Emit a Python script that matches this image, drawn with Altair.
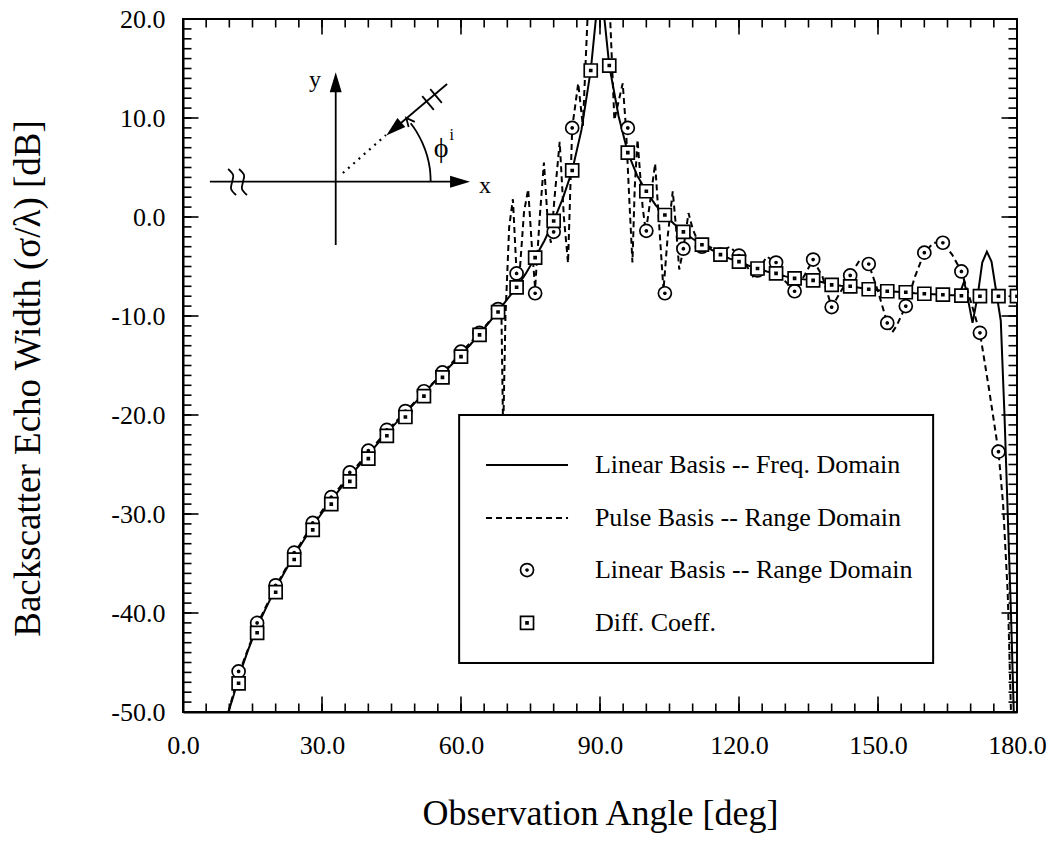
import altair as alt
import pandas as pd

# ---------------- series names ----------------
S1 = "Linear Basis -- Freq. Domain"
S2 = "Pulse Basis -- Range Domain"
S3 = "Linear Basis -- Range Domain"
S4 = "Diff. Coeff."

# ---------------- data ----------------
solid_x = [9.8, 11, 12, 14, 16, 18, 20, 22, 24, 26,
           28, 30, 32, 34, 36, 38, 40, 42, 44, 46,
           48, 50, 52, 54, 56, 58, 60, 62, 64, 66,
           68, 70, 72, 74, 76, 78, 80, 82, 84, 86,
           88, 89, 90, 91, 92, 94, 96, 98, 100, 102,
           104, 106, 108, 110, 112, 114, 116, 118, 120, 122,
           124, 126, 128, 130, 132, 134, 136, 138, 140, 142,
           144, 146, 148, 150, 152, 154, 156, 158, 160, 162,
           164, 166, 167.5, 168.6, 169.5, 170.4, 171.5, 172.5, 173.5, 174.5,
           175.5, 176.5, 177.3, 178, 178.7, 179.3]
solid_y = [-50, -48.2, -46.5, -43.8, -41.4, -39.4, -37.5, -35.8, -34.2, -32.7,
           -31.2, -29.9, -28.6, -27.4, -26.2, -25.1, -24.0, -22.9, -21.8, -20.8,
           -19.8, -18.8, -17.8, -16.8, -15.9, -14.9, -13.9, -12.9, -11.8, -10.7,
           -9.5, -8.3, -7.1, -5.7, -4.1, -2.4, -0.4, 1.9, 4.7, 8.8,
           14.8, 19.5, 24.0, 19.8, 15.3, 10.2, 6.5, 4.2, 2.6, 1.2,
           0.2, -0.7, -1.5, -2.2, -2.8, -3.3, -3.8, -4.2, -4.5, -4.9,
           -5.2, -5.5, -5.7, -6.0, -6.2, -6.3, -6.4, -6.6, -6.85, -6.95,
           -7.0, -7.15, -7.3, -7.4, -7.5, -7.55, -7.6, -7.7, -7.75, -7.8,
           -7.85, -7.9, -7.9, -6.5, -8.5, -10.7, -8.0, -4.6, -3.5, -4.5,
           -7.5, -10.5, -20, -30, -40, -50]

dash_x = [9.8, 12, 16, 20, 24, 28, 32, 36, 40, 44,
          48, 52, 56, 60, 64, 66, 68, 68.7, 69.1, 69.6,
          70.4, 71.2, 72.0, 72.6, 73.6, 74.5, 75.3, 76.0, 77.0, 77.9,
          78.8, 79.4, 80.2, 81.3, 82.2, 83.1, 84.0, 85.3, 86.3, 87.3,
          88.0, 90.0, 92.2, 93.1, 94.9, 95.6, 96.3, 97.0, 97.5, 98.1,
          99.2, 99.9, 100.8, 101.9, 102.8, 103.7, 104.6, 105.7, 106.4, 107.1,
          108.0, 109.1, 110.0, 110.7, 112, 114, 116, 118, 120, 122,
          123, 124, 126, 128, 130, 132, 134, 136, 138, 140,
          142, 144, 146, 148, 150, 152, 153, 154, 156, 158,
          160, 162, 164, 166, 168, 170, 172, 174, 176, 177,
          178, 178.7]
dash_y = [-50, -46.2, -41.2, -37.3, -34.0, -31.0, -28.4, -26.0, -23.8, -21.6,
          -19.7, -17.7, -15.8, -13.7, -11.7, -10.6, -9.3, -8.9, -22, -10,
          -1, 1.8, -5.7, -6.0, 0.5, 2.8, -3.0, -7.2, 0.0, 5.5,
          -1.0, -2.6, 2.0, 7.6, 0.0, -4.65, 9.0, 13.5, 9.2, 20,
          26, 30, 20, 9.8, 13.5, 9.0, 2.0, -4.6, 3.0, 7.8,
          1.0, -1.5, 1.5, 5.4, -1.0, -7.4, -2.0, 2.6, -1.0, -5.3,
          -3.2, 0.4, -1.2, -2.0, -2.6, -3.1, -3.6, -3.0, -3.9, -5.2,
          -6.0, -5.5, -4.0, -4.6, -6.5, -7.5, -6.0, -4.3, -6.0, -9.1,
          -7.5, -5.9, -4.4, -4.75, -7.5, -10.7, -11.7, -11.0, -9.0, -6.0,
          -3.6, -2.6, -2.6, -3.8, -5.5, -8.5, -11.7, -17.5, -23.7, -29,
          -38, -50]

circ_x = [12, 16, 20, 24, 28, 32, 36, 40, 44, 48,
          52, 56, 60, 64, 68, 72, 76, 80, 84, 96,
          100, 104, 108, 112, 116, 120, 124, 128, 132, 136,
          140, 144, 148, 152, 156, 160, 164, 168, 172, 176]
circ_y = [-45.9, -41.0, -37.2, -33.9, -30.9, -28.3, -25.8, -23.6, -21.5, -19.6,
          -17.6, -15.7, -13.6, -11.7, -9.3, -5.7, -7.7, -1.5, 9.0, 9.0,
          -1.4, -7.7, -3.2, -3.0, -3.8, -3.9, -5.4, -4.6, -7.5, -4.3,
          -9.1, -5.9, -4.75, -10.7, -9.0, -3.6, -2.6, -5.5, -11.7, -23.7]

sq_x = [12, 16, 20, 24, 28, 32, 36, 40, 44, 48,
        52, 56, 60, 64, 68, 72, 76, 80, 84, 88,
        92, 96, 100, 104, 108, 112, 116, 120, 124, 128,
        132, 136, 140, 144, 148, 152, 156, 160, 164, 168,
        172, 176, 180]
sq_y = [-47.1, -42.0, -37.9, -34.6, -31.6, -29.0, -26.7, -24.4, -22.1, -20.2,
        -18.1, -16.2, -14.1, -11.9, -9.6, -7.1, -4.1, -0.4, 4.7, 14.8,
        15.3, 6.5, 2.6, 0.2, -1.5, -2.8, -3.8, -4.5, -5.2, -5.7,
        -6.2, -6.4, -6.85, -7.0, -7.3, -7.5, -7.6, -7.75, -7.85, -7.95,
        -8.0, -8.0, -8.0]

# tick positions / labels
x_tick_labels = [0, 30, 60, 90, 120, 150, 180]
y_tick_labels = [-50, -40, -30, -20, -10, 0, 10, 20]
x_minor = list(range(0, 181, 5))
y_minor = list(range(-50, 21, 1))

# ---------------- legend layout (chart units) ----------------
leg_names = [S1, S2, S3, S4]
leg_row_y = [-25.05, -30.4, -35.66, -41.0]
leg_box_x = [59.6, 161.9]
leg_box_y = [-20.0, -45.05]
leg_line_x = [65.4, 83.1]
leg_sym_x = 74.25
leg_text_x = 88.9

# ---------------- inset sketch (chart units) ----------------
seg_id = ["xaxis", "xaxis", "yaxis", "yaxis", "ray", "ray",
          "t1", "t1", "t2", "t2",
          "arc", "arc", "arc", "arc", "arc", "arc",
          "b1", "b1", "b1", "b1", "b1",
          "b2", "b2", "b2", "b2", "b2"]
seg_x = [5.8, 59.8, 32.96, 32.96, 45.5, 57.0,
         51.63, 54.13, 53.36, 55.86,
         53.46, 53.27, 52.67, 51.69, 50.36, 49.13,
         9.74, 10.82, 10.6, 10.38, 11.46,
         12.09, 13.17, 12.95, 12.73, 13.81]
seg_y = [3.57, 3.57, -2.83, 13.6, 8.89, 13.43,
         12.21, 10.82, 12.92, 11.53,
         3.57, 4.90, 6.21, 7.46, 8.65, 9.47,
         4.85, 4.24, 3.54, 2.83, 2.22,
         4.85, 4.24, 3.54, 2.83, 2.22]
dot_x = [34.5, 43.8]
dot_y = [4.44, 8.28]
arrow_x = [59.8, 32.96, 45.5]
arrow_y = [3.57, 13.6, 8.89]
arrow_a = [0, 270, 139]
chev_x = [48.67]
chev_y = [9.74]
chev_a = [230]
lbl_text = ["y", "x", "\u03d5"]
lbl_x = [28.5, 65.2, 55.7]
lbl_y = [13.8, 3.1, 6.9]
lbl_size = [24, 24, 28]
sup_text = ["i"]
sup_x = [58.0]
sup_y = [8.3]

# ---------------- styling helpers ----------------
FONT = "Liberation Serif"
xscale = alt.Scale(domain=[0, 180], nice=False, zero=False)
yscale = alt.Scale(domain=[-50, 20], nice=False, zero=False)
LBL = "(datum.value < 0 ? '-' : '') + format(abs(datum.value), '.1f')"
x_axis = alt.Axis(values=x_tick_labels, labelExpr=LBL, title="Observation Angle [deg]",
                  labelPadding=20, labelFlush=False, titleY=84, titleFontSize=36, ticks=False, grid=False)
y_axis = alt.Axis(values=y_tick_labels, labelExpr=LBL, title="Backscatter Echo Width (\u03c3/\u03bb) [dB]",
                  labelPadding=18, labelFlush=False, titleX=-136, titleY=359, titleFontSize=37,
                  ticks=False, grid=False)


def X(field="x"):
    return alt.X(field + ":Q", scale=xscale, axis=x_axis)


def Y(field="y"):
    return alt.Y(field + ":Q", scale=yscale, axis=y_axis)


# custom symbol paths (unit square -1..1)
P_CIRC = ("M-1,0A1,1 0 1,0 1,0A1,1 0 1,0 -1,0Z "
          "M-0.15,0A0.15,0.15 0 1,0 0.15,0A0.15,0.15 0 1,0 -0.15,0Z")
P_SQ = "M-1,-1H1V1H-1Z M-0.15,-0.15H0.15V0.15H-0.15Z"
P_ARROW = "M1,0L-1,-0.6L-1,0.6Z"
P_CHEV = "M-1,-0.8L0.7,0L-1,0.8"
SHAPE_SCALE = alt.Scale(domain=[S3, S4], range=[P_CIRC, P_SQ])

# ---------------- data frames ----------------
df_solid = pd.DataFrame({"x": solid_x, "y": solid_y})
df_dash = pd.DataFrame({"x": dash_x, "y": dash_y})
df_pts = pd.concat([
    pd.DataFrame({"x": circ_x, "y": circ_y, "series": S3}),
    pd.DataFrame({"x": sq_x, "y": sq_y, "series": S4}),
], ignore_index=True)

xt_min = pd.DataFrame({"x": x_minor * 2, "y": [-50] * len(x_minor) + [20] * len(x_minor)})
xt_maj = pd.DataFrame({"x": x_tick_labels * 2, "y": [-50] * len(x_tick_labels) + [20] * len(x_tick_labels)})
yt_min = pd.DataFrame({"y": y_minor * 2, "x": [0] * len(y_minor) + [180] * len(y_minor)})
yt_maj = pd.DataFrame({"y": y_tick_labels * 2, "x": [0] * len(y_tick_labels) + [180] * len(y_tick_labels)})

df_seg = pd.DataFrame({"seg": seg_id, "x": seg_x, "y": seg_y, "i": list(range(len(seg_id)))})
df_dot = pd.DataFrame({"x": dot_x, "y": dot_y})
df_arrow = pd.DataFrame({"x": arrow_x, "y": arrow_y, "a": arrow_a})
df_chev = pd.DataFrame({"x": chev_x, "y": chev_y, "a": chev_a})
df_lbl = pd.DataFrame({"x": lbl_x, "y": lbl_y, "t": lbl_text, "s": lbl_size})
df_sup = pd.DataFrame({"x": sup_x, "y": sup_y, "t": sup_text})

df_legbox = pd.DataFrame({"x": [leg_box_x[0]], "x2": [leg_box_x[1]], "y": [leg_box_y[0]], "y2": [leg_box_y[1]]})
df_leglines = pd.DataFrame({"x": [leg_line_x[0]] * 2, "x2": [leg_line_x[1]] * 2,
                            "y": leg_row_y[:2], "series": leg_names[:2]})
df_legsym = pd.DataFrame({"x": [leg_sym_x] * 2, "y": leg_row_y[2:], "series": leg_names[2:]})
df_legtext = pd.DataFrame({"x": [leg_text_x] * 4, "y": leg_row_y, "t": leg_names})

# ---------------- layers ----------------
tick_kw = dict(color="black", thickness=1.6, opacity=1, clip=True)
l_xmin = alt.Chart(xt_min).mark_tick(orient="vertical", size=17, **tick_kw).encode(x=X(), y=Y())
l_xmaj = alt.Chart(xt_maj).mark_tick(orient="vertical", size=31, **tick_kw).encode(x=X(), y=Y())
l_ymin = alt.Chart(yt_min).mark_tick(orient="horizontal", size=17, **tick_kw).encode(x=X(), y=Y())
l_ymaj = alt.Chart(yt_maj).mark_tick(orient="horizontal", size=31, **tick_kw).encode(x=X(), y=Y())

l_solid = alt.Chart(df_solid).mark_line(color="black", strokeWidth=2, clip=True).encode(x=X(), y=Y())
l_dash = alt.Chart(df_dash).mark_line(color="black", strokeWidth=2, strokeDash=[6, 4], clip=True).encode(x=X(), y=Y())

pt_kw = dict(filled=True, fill="white", stroke="black", strokeWidth=1.7, size=169, opacity=1)
l_pts = alt.Chart(df_pts).mark_point(clip=True, **pt_kw).encode(
    x=X(), y=Y(), shape=alt.Shape("series:N", scale=SHAPE_SCALE, legend=None))

# manual legend box
l_legbox = alt.Chart(df_legbox).mark_rect(fill="white", stroke="black", strokeWidth=2).encode(
    x=X(), x2="x2:Q", y=Y(), y2="y2:Q")
l_legline = alt.Chart(df_leglines).mark_rule(color="black", strokeWidth=2).encode(
    x=X(), x2="x2:Q", y=Y(),
    strokeDash=alt.StrokeDash("series:N", scale=alt.Scale(domain=[S1, S2], range=[[1, 0], [6, 4]]), legend=None))
l_legsym = alt.Chart(df_legsym).mark_point(**pt_kw).encode(
    x=X(), y=Y(), shape=alt.Shape("series:N", scale=SHAPE_SCALE, legend=None))
l_legtext = alt.Chart(df_legtext).mark_text(font=FONT, fontSize=26, color="black", align="left",
                                            baseline="middle").encode(x=X(), y=Y(), text="t:N")

# inset sketch
l_seg = alt.Chart(df_seg).mark_line(color="black", strokeWidth=1.8, interpolate="cardinal").encode(
    x=X(), y=Y(), detail="seg:N", order="i:Q")
l_dot = alt.Chart(df_dot).mark_line(color="black", strokeWidth=2.2, strokeDash=[2, 5]).encode(x=X(), y=Y())
l_arrow = alt.Chart(df_arrow).mark_point(shape=P_ARROW, filled=True, color="black", size=400, opacity=1).encode(
    x=X(), y=Y(), angle=alt.Angle("a:Q", scale=None))
l_chev = alt.Chart(df_chev).mark_point(shape=P_CHEV, filled=False, color="black", strokeWidth=1.8,
                                        size=100, opacity=1).encode(
    x=X(), y=Y(), angle=alt.Angle("a:Q", scale=None))
l_lbl = alt.Chart(df_lbl).mark_text(font=FONT, color="black").encode(
    x=X(), y=Y(), text="t:N", size=alt.Size("s:Q", scale=None, legend=None))
l_sup = alt.Chart(df_sup).mark_text(font=FONT, fontSize=16, color="black").encode(x=X(), y=Y(), text="t:N")

chart = alt.layer(
    l_xmin, l_xmaj, l_ymin, l_ymaj,
    l_solid, l_dash, l_pts,
    l_legbox, l_legline, l_legsym, l_legtext,
    l_seg, l_dot, l_arrow, l_chev, l_lbl, l_sup,
).resolve_scale(
    shape="shared", strokeDash="independent",
).properties(
    width=834, height=693,
    padding={"left": 183, "top": 19, "right": 39, "bottom": 141},
    autosize=alt.AutoSizeParams(type="none"),
    background="white",
).configure_axis(
    labelFont=FONT, labelFontSize=26, labelColor="black",
    titleFont=FONT, titleFontWeight="normal", titleColor="black",
    domainColor="black", domainWidth=2,
).configure_view(
    stroke="black", strokeWidth=2,
)

chart.save("out.html", embed_options={"renderer": "svg", "actions": False})
